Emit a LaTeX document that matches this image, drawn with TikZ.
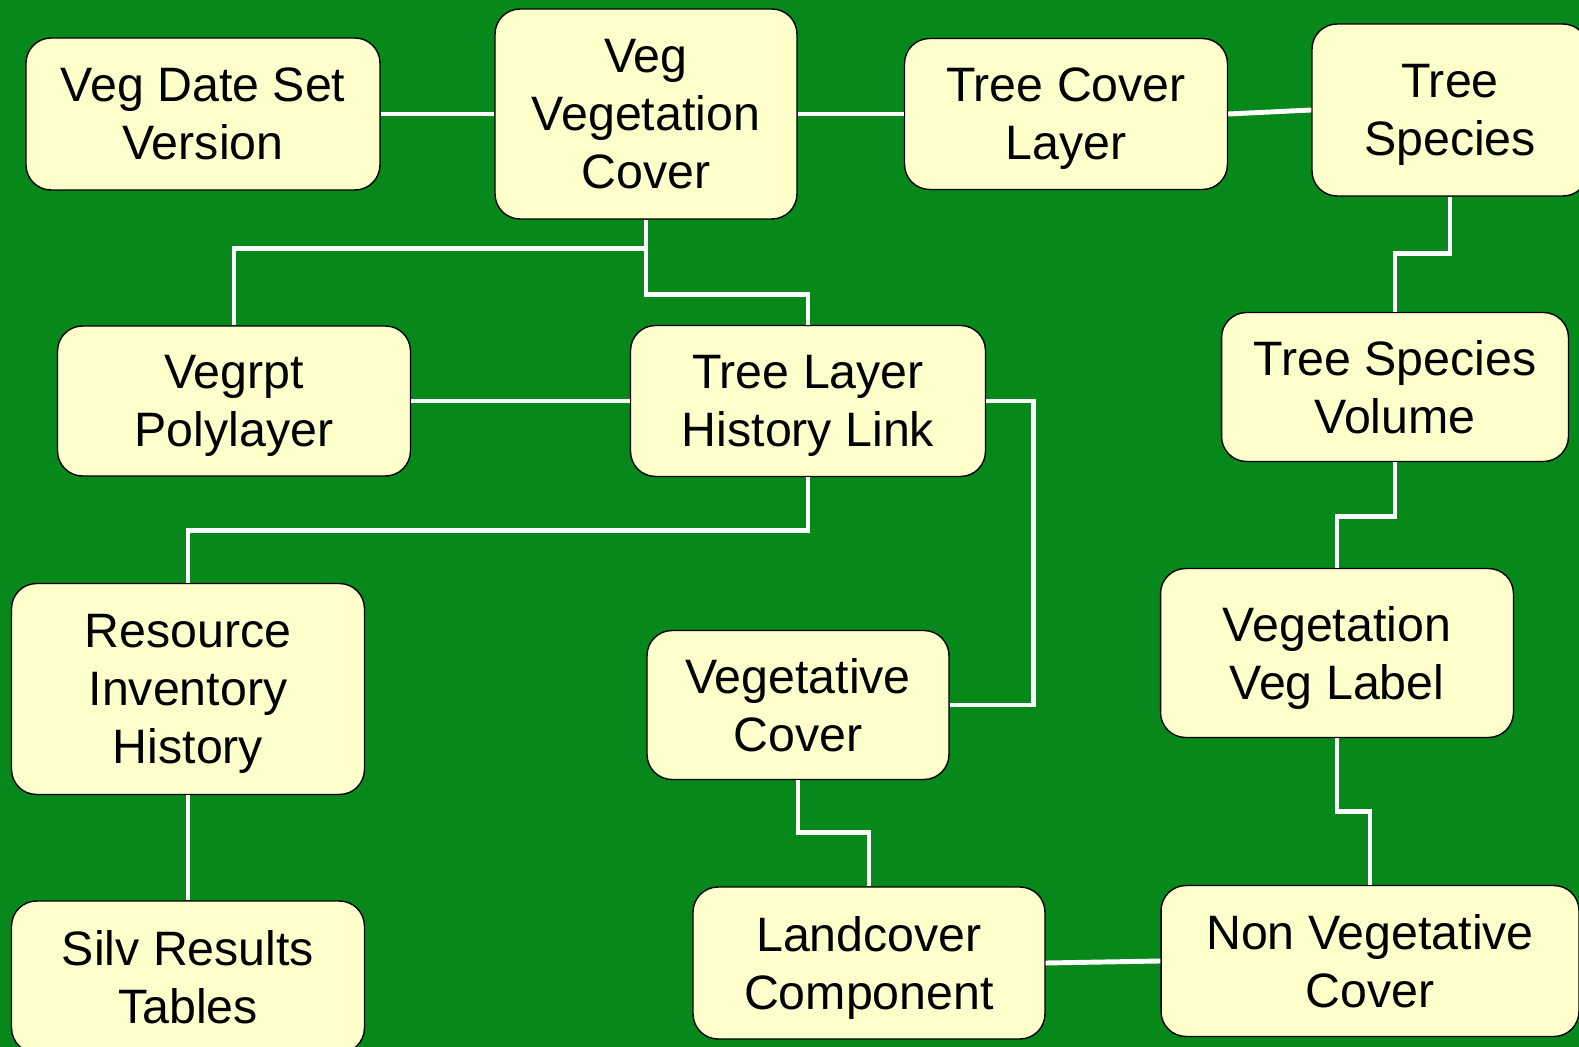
\documentclass[tikz,border=0pt]{standalone}
\usepackage{fontspec}
\setmainfont{Liberation Sans}
\usepackage{xcolor}
\definecolor{bggreen}{HTML}{07881A}
\definecolor{boxyellow}{HTML}{FFFFCC}

\begin{document}
\begin{tikzpicture}[
    x=0.02cm, y=-0.02cm,
    entity/.style = {shape=rectangle, rounded corners=0.5cm,
      draw=black, line width=0.8pt, fill=boxyellow, align=center,
      inner sep=0pt, text=black, text depth=0pt,
      font=\fontsize{27.5}{33}\selectfont},
    link/.style = {draw=white, line width=2.8pt}]
  \fill[bggreen] (0,0) rectangle (1579,1047);
  \useasboundingbox (0,0) rectangle (1579,1047);

  % top row
  \node[entity, minimum width=7.08cm, minimum height=3.04cm] (vdsv) at (203,114) {Veg Date Set\\Version};
  \node[entity, minimum width=6.04cm, minimum height=4.2cm] (vvc) at (646,114) {Veg\\Vegetation\\Cover};
  \node[entity, minimum width=6.46cm, minimum height=3.02cm] (tcl) at (1066,114) {Tree Cover\\Layer};
  \node[entity, minimum width=5.52cm, minimum height=3.44cm] (ts) at (1450,110) {Tree\\Species};

  % middle
  \node[entity, minimum width=6.94cm, minimum height=2.98cm] (tsv) at (1395,387) {Tree Species\\Volume};
  \node[entity, minimum width=7.06cm, minimum height=3.0cm] (vp) at (234,401) {Vegrpt\\Polylayer};
  \node[entity, minimum width=7.1cm, minimum height=3.02cm] (tlhl) at (808,401) {Tree Layer\\History Link};
  \node[entity, minimum width=7.06cm, minimum height=4.22cm] (rih) at (188,689) {Resource\\Inventory\\History};
  \node[entity, minimum width=6.04cm, minimum height=2.98cm] (vc) at (798,705) {Vegetative\\Cover};
  \node[entity, minimum width=7.06cm, minimum height=3.38cm] (vvl) at (1337,653) {Vegetation\\Veg Label};

  % bottom row
  \node[entity, minimum width=7.06cm, minimum height=3.04cm] (srt) at (188,977) {Silv Results\\Tables};
  \node[entity, minimum width=7.04cm, minimum height=3.04cm] (lc) at (869,963) {Landcover\\Component};
  \node[entity, minimum width=8.36cm, minimum height=3.02cm] (nvc) at (1370,961) {Non Vegetative\\Cover};

  % links
  \draw[link] (vdsv.east) -- (vvc.west);
  \draw[link] (vvc.east) -- (tcl.west);
  \draw[link] (tcl.east) -- (ts.west);
  \draw[link] (ts.south) -- ++(0,57) -| (tsv.north);
  \draw[link] (tsv.south) -- ++(0,54) -| (vvl.north);
  \draw[link] (vvl.south) -- ++(0,73) -| (nvc.north);
  \draw[link] (lc.east) -- (nvc.west);
  \draw[link] (lc.north) -- ++(0,-54) -| (vc.south);
  \draw[link] (vc.east) -- ++(84,0) |- (tlhl.east);
  \draw[link] (tlhl.west) -- (vp.east);
  \draw[link] (vvc.south) -- ++(0,29) -| (vp.north);
  \draw[link] (vvc.south) -- ++(0,75) -| (tlhl.north);
  \draw[link] (tlhl.south) -- ++(0,53) -| (rih.north);
  \draw[link] (rih.south) -- (srt.north);
\end{tikzpicture}
\end{document}
